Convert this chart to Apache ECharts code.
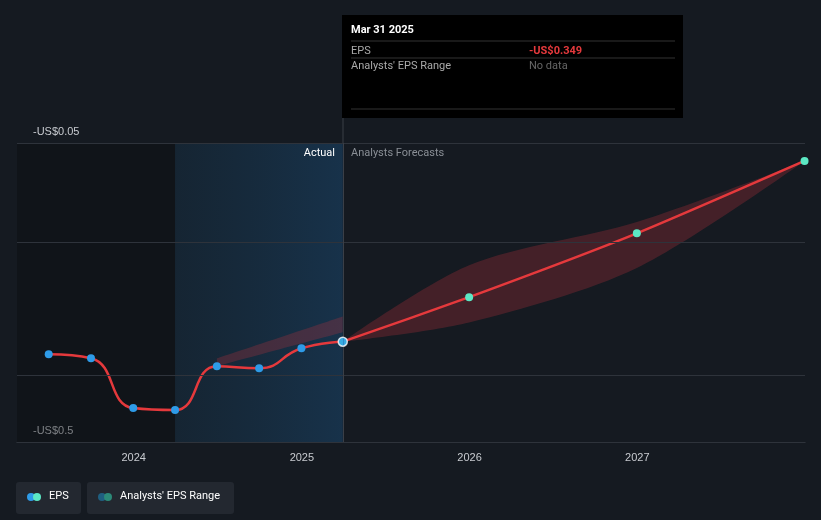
<!DOCTYPE html>
<html><head><meta charset="utf-8">
<script src="https://cdn.jsdelivr.net/npm/echarts@6/dist/echarts.min.js"></script>
<style>body{margin:0;background:#151a21}#c{width:821px;height:520px}</style>
</head><body><div id="c"></div>
<script>
// EPS actual (quarterly)
const epsActual = [
  ['2023-06-30', -0.368], ['2023-09-30', -0.374], ['2023-12-31', -0.449],
  ['2024-03-31', -0.452], ['2024-06-30', -0.386], ['2024-09-30', -0.389],
  ['2024-12-31', -0.359], ['2025-03-31', -0.349]
]
// analysts forecast
const epsForecast = [
  ['2025-03-31', -0.349], ['2025-12-31', -0.282], ['2026-12-31', -0.186], ['2027-12-31', -0.077]
]
const rangeDates = ['2025-03-31', '2025-12-31', '2026-12-31', '2027-12-31']
const rangeLow = [-0.349, -0.320, -0.238, -0.077]
const rangeHigh = [-0.349, -0.234, -0.169, -0.077]
const pastRangeDates = ['2024-06-30', '2025-03-31']
const pastLow = [-0.386, -0.335]
const pastHigh = [-0.374, -0.311]
const gridValues = [-0.05, -0.2, -0.4, -0.5]
const yLabels = [-0.05, -0.5]

const chart = echarts.init(document.getElementById('c'))
const bandColor = 'rgba(190,50,60,0.28)'
function band(dates, low, high, name){
  return [
    {type:'line', stack:name, stackStrategy:'all', data:dates.map((d,i)=>[d,low[i]]), symbol:'none', lineStyle:{opacity:0}, smooth:0.3, silent:true},
    {type:'line', stack:name, stackStrategy:'all', data:dates.map((d,i)=>[d,high[i]-low[i]]), symbol:'none', lineStyle:{opacity:0}, areaStyle:{color:bandColor, opacity:1}, smooth:0.3, silent:true}
  ]
}
const txt = (x,y,text,fill,bold,align)=>({type:'text', x, y, z:100, style:{text, fill, align:align||'left', font:(bold?'bold ':'')+'11px Roboto, sans-serif'}})
chart.setOption({
  backgroundColor:'#151a21',
  animation:false,
  grid:{left:17, right:16, top:143, bottom:78},
  xAxis:{type:'time', min:'2023-04-22', max:'2028-01-01',
    axisLine:{lineStyle:{color:'#3a3f47'}}, axisTick:{show:false}, splitLine:{show:false},
    axisLabel:{color:'#c8cbd0', fontSize:11, formatter:'{yyyy}', margin:10}},
  yAxis:{type:'value', min:-0.5, max:-0.05, splitLine:{show:false}, axisLine:{show:false}, axisTick:{show:false},
    axisLabel:{customValues:yLabels, inside:true, verticalAlign:'bottom', color:'#c8cbd0', fontSize:11,
      padding:[0,0,6,8], formatter:v=>'-US$'+Math.abs(v)}},
  series:[
    ...band(pastRangeDates, pastLow, pastHigh, 'past'),
    ...band(rangeDates, rangeLow, rangeHigh, 'fut'),
    {type:'line', data:epsActual, smooth:0.5, symbol:'circle', symbolSize:8,
      itemStyle:{color:'#2e9be8'}, lineStyle:{color:'#e5393c', width:2.5},
      markLine:{silent:true, symbol:'none', label:{show:false}, lineStyle:{color:'#2e333b', type:'solid', width:1},
        data:gridValues.map(v=>({yAxis:v}))},
      markArea:{silent:true, data:[
        [{xAxis:'2023-04-22', itemStyle:{color:'rgba(10,12,16,0.4)'}},{xAxis:'2024-03-31'}],
        [{xAxis:'2024-03-31', itemStyle:{color:new echarts.graphic.LinearGradient(0,0,1,0,[{offset:0,color:'rgba(22,50,72,0.45)'},{offset:1,color:'rgba(24,58,88,0.75)'}])}},{xAxis:'2025-03-31'}]
      ]}},
    {type:'line', data:epsForecast, smooth:0.2, symbol:'circle', symbolSize:8,
      itemStyle:{color:'#5ce8c4'}, lineStyle:{color:'#e5393c', width:2.5},
      markLine:{silent:true, symbol:'none', label:{show:false}, lineStyle:{color:'#3a3f47', type:'solid', width:1},
        data:[[{coord:['2025-03-31',-0.05]},{coord:['2025-03-31',-0.5]}]]}},
    {type:'scatter', data:[['2025-03-31',-0.349]], symbolSize:9, itemStyle:{color:'#2e9be8', borderColor:'#fff', borderWidth:1.5}, z:10}
  ],
  graphic:[
    {type:'line', shape:{x1:343,y1:117,x2:343,y2:143}, style:{stroke:'#3a3f47'}},
    {type:'rect', shape:{x:342,y:15,width:341,height:103}, style:{fill:'#000'}},
    txt(351,25,'Mar 31 2025','#fff',true),
    {type:'line', shape:{x1:351,y1:41,x2:675,y2:41}, style:{stroke:'#333'}},
    txt(351,46,'EPS','#aaa'),
    txt(529,46,'-US$0.349','#e5393c',true),
    {type:'line', shape:{x1:351,y1:58,x2:675,y2:58}, style:{stroke:'#333'}},
    txt(351,61,"Analysts' EPS Range",'#aaa'),
    txt(529,61,'No data','#666'),
    {type:'line', shape:{x1:351,y1:109,x2:675,y2:109}, style:{stroke:'#333'}},
    txt(335,148,'Actual','#fff',false,'right'),
    txt(351,148,'Analysts Forecasts','#8a8f96'),
    {type:'rect', shape:{x:16,y:482,width:65,height:32,r:3}, style:{fill:'#232830'}},
    {type:'circle', shape:{cx:31,cy:497,r:4}, style:{fill:'#2e9be8'}},
    {type:'circle', shape:{cx:37,cy:497,r:4}, style:{fill:'#5ce8c4'}},
    txt(49,491,'EPS','#fff'),
    {type:'rect', shape:{x:87,y:482,width:147,height:32,r:3}, style:{fill:'#232830'}},
    {type:'circle', shape:{cx:102,cy:497,r:4}, style:{fill:'#1f5f80'}},
    {type:'circle', shape:{cx:108,cy:497,r:4}, style:{fill:'#2c8a78'}},
    txt(120,491,"Analysts' EPS Range",'#fff')
  ]
})
</script></body></html>
